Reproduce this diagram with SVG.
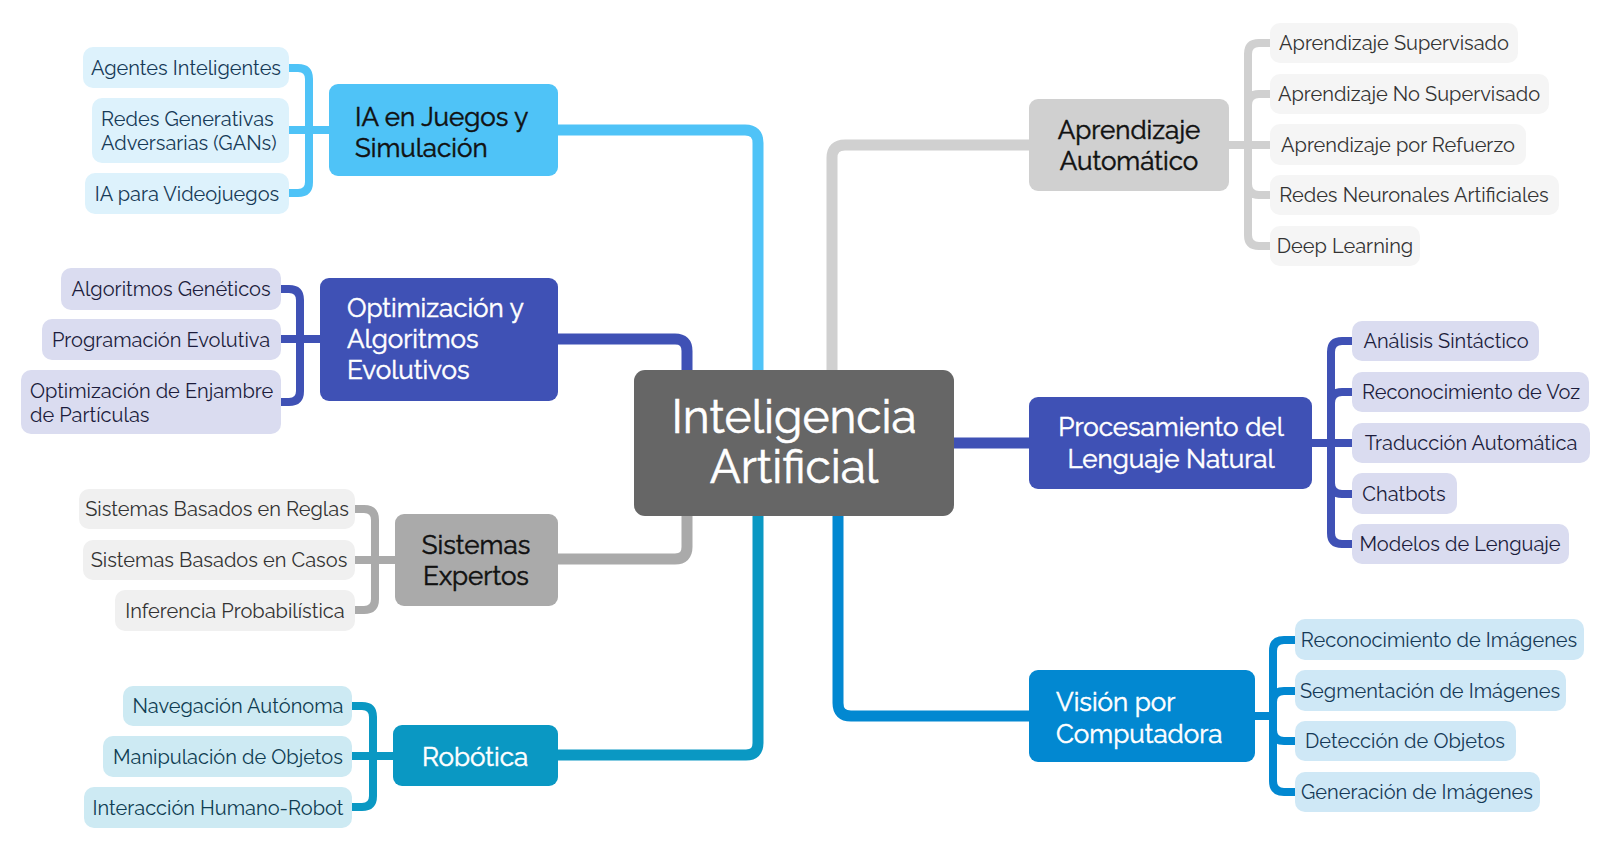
<svg xmlns="http://www.w3.org/2000/svg" width="1624" height="851" viewBox="0 0 1624 851">
<style>
text{font-family:Raleway,Lato,"Open Sans","Liberation Sans",sans-serif}
.c{font-size:20px}
.p{font-size:26px;stroke-width:0.5}
.m{text-anchor:middle}
.w{fill:#ffffff;stroke:#ffffff}
.k{fill:#111111;stroke:#111111}
.ln{fill:none;stroke-linejoin:round;stroke-linecap:butt}
.main{stroke-width:11}
.sub{stroke-width:8}
</style>
<rect width="1624" height="851" fill="#ffffff"/>
<g id="connectors">
<path class="ln main" stroke="#4fc3f7" d="M558 130 H745 Q758 130 758 143 V372"/>
<path class="ln main" stroke="#3f51b5" d="M558 339 H675 Q687 339 687 351 V372"/>
<path class="ln main" stroke="#aaaaaa" d="M687 514 V547 Q687 559 675 559 H558"/>
<path class="ln main" stroke="#0a98c3" d="M758 514 V743 Q758 755 746 755 H558"/>
<path class="ln main" stroke="#d0d0d0" d="M832 372 V158 Q832 145 845 145 H1029"/>
<path class="ln main" stroke="#3f51b5" d="M952 443 H1029"/>
<path class="ln main" stroke="#0288d1" d="M838 514 V703 Q838 716 851 716 H1029"/>
<g stroke="#4fc3f7" class="ln sub">
<path d="M289 68 H298 Q309 68 309 79 V130 H329"/>
<path d="M289 130 H329"/>
<path d="M289 193 H298 Q309 193 309 182 V130"/>
</g>
<g stroke="#3f51b5" class="ln sub">
<path d="M281 289 H289 Q300 289 300 300 V339 H320"/>
<path d="M281 339 H320"/>
<path d="M281 402 H289 Q300 402 300 391 V339"/>
</g>
<g stroke="#aaaaaa" class="ln sub">
<path d="M355 509 H364 Q375 509 375 520 V560 H395"/>
<path d="M355 560 H395"/>
<path d="M355 610 H364 Q375 610 375 599 V560"/>
</g>
<g stroke="#0a98c3" class="ln sub">
<path d="M352 706 H362 Q373 706 373 717 V756 H393"/>
<path d="M352 756 H393"/>
<path d="M352 807 H362 Q373 807 373 796 V756"/>
</g>
<g stroke="#d0d0d0" class="ln sub">
<path d="M1270 43 H1259 Q1248 43 1248 54 V145 H1229"/>
<path d="M1270 94 H1259 Q1248 94 1248 105 V145"/>
<path d="M1270 145 H1229"/>
<path d="M1270 195 H1259 Q1248 195 1248 184 V145"/>
<path d="M1270 246 H1259 Q1248 246 1248 235 V145"/>
</g>
<g stroke="#3f51b5" class="ln sub">
<path d="M1352 341 H1342 Q1331 341 1331 352 V443 H1312"/>
<path d="M1352 392 H1342 Q1331 392 1331 403 V443"/>
<path d="M1352 443 H1312"/>
<path d="M1352 494 H1342 Q1331 494 1331 483 V443"/>
<path d="M1352 544 H1342 Q1331 544 1331 533 V443"/>
</g>
<g stroke="#0288d1" class="ln sub">
<path d="M1295 640 H1284 Q1273 640 1273 651 V716 H1255"/>
<path d="M1295 691 H1284 Q1273 691 1273 702 V716"/>
<path d="M1295 741 H1284 Q1273 741 1273 730 V716"/>
<path d="M1295 792 H1284 Q1273 792 1273 781 V716"/>
</g>
</g>
<g id="n-central">
<rect x="634" y="370" width="320" height="146" rx="11" fill="#666666"/>
<text class="m w" x="794" y="433" font-size="46" stroke-width="0.6">Inteligencia</text>
<text class="m w" x="794" y="483" font-size="46" stroke-width="0.6">Artificial</text>
</g>
<g id="n-juegos">
<rect x="329" y="84" width="229" height="92" rx="9" fill="#4fc3f7"/>
<text class="p k" x="355" y="126">IA en Juegos y</text>
<text class="p k" x="355" y="157">Simulación</text>
</g>
<g id="n-agentes"><rect x="83" y="47" width="206" height="41" rx="10" fill="#ddf2fc"/><text class="c m" x="186" y="75" fill="#163a57">Agentes Inteligentes</text></g>
<g id="n-gans"><rect x="92" y="98" width="197" height="65" rx="10" fill="#ddf2fc"/><text class="c" x="101" y="126" fill="#163a57">Redes Generativas</text><text class="c" x="101" y="150" fill="#163a57">Adversarias (GANs)</text></g>
<g id="n-videojuegos"><rect x="85" y="173" width="204" height="41" rx="10" fill="#ddf2fc"/><text class="c m" x="187" y="201" fill="#163a57">IA para Videojuegos</text></g>
<g id="n-optim">
<rect x="320" y="278" width="238" height="123" rx="9" fill="#3f51b5"/>
<text class="p w" x="347" y="317">Optimización y</text>
<text class="p w" x="347" y="348">Algoritmos</text>
<text class="p w" x="347" y="379">Evolutivos</text>
</g>
<g id="n-geneticos"><rect x="61" y="268" width="220" height="42" rx="10" fill="#dadcf0"/><text class="c m" x="171" y="296" fill="#1c1c3c">Algoritmos Genéticos</text></g>
<g id="n-programacion"><rect x="42" y="319" width="239" height="41" rx="10" fill="#dadcf0"/><text class="c m" x="161" y="347" fill="#1c1c3c">Programación Evolutiva</text></g>
<g id="n-enjambre"><rect x="21" y="370" width="260" height="64" rx="10" fill="#dadcf0"/><text class="c" x="30" y="398" fill="#1c1c3c">Optimización de Enjambre</text><text class="c" x="30" y="422" fill="#1c1c3c">de Partículas</text></g>
<g id="n-expertos">
<rect x="395" y="514" width="163" height="92" rx="9" fill="#aaaaaa"/>
<text class="p m k" x="476" y="554">Sistemas</text>
<text class="p m k" x="476" y="585">Expertos</text>
</g>
<g id="n-reglas"><rect x="79" y="489" width="276" height="40" rx="10" fill="#f0f0f0"/><text class="c m" x="217" y="516" fill="#333333">Sistemas Basados en Reglas</text></g>
<g id="n-casos"><rect x="83" y="540" width="272" height="40" rx="10" fill="#f0f0f0"/><text class="c m" x="219" y="567" fill="#333333">Sistemas Basados en Casos</text></g>
<g id="n-inferencia"><rect x="115" y="590" width="240" height="41" rx="10" fill="#f0f0f0"/><text class="c m" x="235" y="618" fill="#333333">Inferencia Probabilística</text></g>
<g id="n-robotica">
<rect x="393" y="725" width="165" height="61" rx="9" fill="#0a98c3"/>
<text class="p m w" x="475" y="766">Robótica</text>
</g>
<g id="n-navegacion"><rect x="123" y="686" width="229" height="40" rx="10" fill="#cdeaf3"/><text class="c m" x="238" y="713" fill="#0f3d52">Navegación Autónoma</text></g>
<g id="n-manipulacion"><rect x="103" y="736" width="249" height="41" rx="10" fill="#cdeaf3"/><text class="c m" x="228" y="764" fill="#0f3d52">Manipulación de Objetos</text></g>
<g id="n-interaccion"><rect x="84" y="787" width="268" height="41" rx="10" fill="#cdeaf3"/><text class="c m" x="218" y="815" fill="#0f3d52">Interacción Humano-Robot</text></g>
<g id="n-aprendizaje">
<rect x="1029" y="99" width="200" height="92" rx="9" fill="#d0d0d0"/>
<text class="p m k" x="1129" y="139">Aprendizaje</text>
<text class="p m k" x="1129" y="170">Automático</text>
</g>
<g id="n-supervisado"><rect x="1270" y="23" width="248" height="40" rx="10" fill="#f5f5f5"/><text class="c m" x="1394" y="50" fill="#333333">Aprendizaje Supervisado</text></g>
<g id="n-nosupervisado"><rect x="1270" y="74" width="279" height="40" rx="10" fill="#f5f5f5"/><text class="c m" x="1409" y="101" fill="#333333">Aprendizaje No Supervisado</text></g>
<g id="n-refuerzo"><rect x="1270" y="124" width="256" height="41" rx="10" fill="#f5f5f5"/><text class="c m" x="1398" y="152" fill="#333333">Aprendizaje por Refuerzo</text></g>
<g id="n-redes"><rect x="1270" y="175" width="289" height="40" rx="10" fill="#f5f5f5"/><text class="c m" x="1414" y="202" fill="#333333">Redes Neuronales Artificiales</text></g>
<g id="n-deep"><rect x="1270" y="226" width="150" height="40" rx="10" fill="#f5f5f5"/><text class="c m" x="1345" y="253" fill="#333333">Deep Learning</text></g>
<g id="n-pln">
<rect x="1029" y="397" width="283" height="92" rx="9" fill="#3f51b5"/>
<text class="p m w" x="1171" y="436">Procesamiento del</text>
<text class="p m w" x="1171" y="468">Lenguaje Natural</text>
</g>
<g id="n-sintactico"><rect x="1352" y="321" width="187" height="40" rx="10" fill="#dadcf0"/><text class="c m" x="1446" y="348" fill="#1c1c3c">Análisis Sintáctico</text></g>
<g id="n-voz"><rect x="1352" y="372" width="237" height="40" rx="10" fill="#dadcf0"/><text class="c m" x="1471" y="399" fill="#1c1c3c">Reconocimiento de Voz</text></g>
<g id="n-traduccion"><rect x="1352" y="423" width="238" height="40" rx="10" fill="#dadcf0"/><text class="c m" x="1471" y="450" fill="#1c1c3c">Traducción Automática</text></g>
<g id="n-chatbots"><rect x="1352" y="473" width="105" height="41" rx="10" fill="#dadcf0"/><text class="c m" x="1404" y="501" fill="#1c1c3c">Chatbots</text></g>
<g id="n-modelos"><rect x="1352" y="524" width="217" height="40" rx="10" fill="#dadcf0"/><text class="c m" x="1460" y="551" fill="#1c1c3c">Modelos de Lenguaje</text></g>
<g id="n-vision">
<rect x="1029" y="670" width="226" height="92" rx="9" fill="#0288d1"/>
<text class="p w" x="1056" y="711">Visión por</text>
<text class="p w" x="1056" y="743">Computadora</text>
</g>
<g id="n-recimg"><rect x="1295" y="619" width="289" height="41" rx="10" fill="#cfe8f6"/><text class="c m" x="1439" y="647" fill="#163a57">Reconocimiento de Imágenes</text></g>
<g id="n-segimg"><rect x="1295" y="670" width="271" height="41" rx="10" fill="#cfe8f6"/><text class="c m" x="1430" y="698" fill="#163a57">Segmentación de Imágenes</text></g>
<g id="n-detobj"><rect x="1295" y="721" width="221" height="40" rx="10" fill="#cfe8f6"/><text class="c m" x="1405" y="748" fill="#163a57">Detección de Objetos</text></g>
<g id="n-genimg"><rect x="1295" y="772" width="245" height="40" rx="10" fill="#cfe8f6"/><text class="c m" x="1417" y="799" fill="#163a57">Generación de Imágenes</text></g>
</svg>
